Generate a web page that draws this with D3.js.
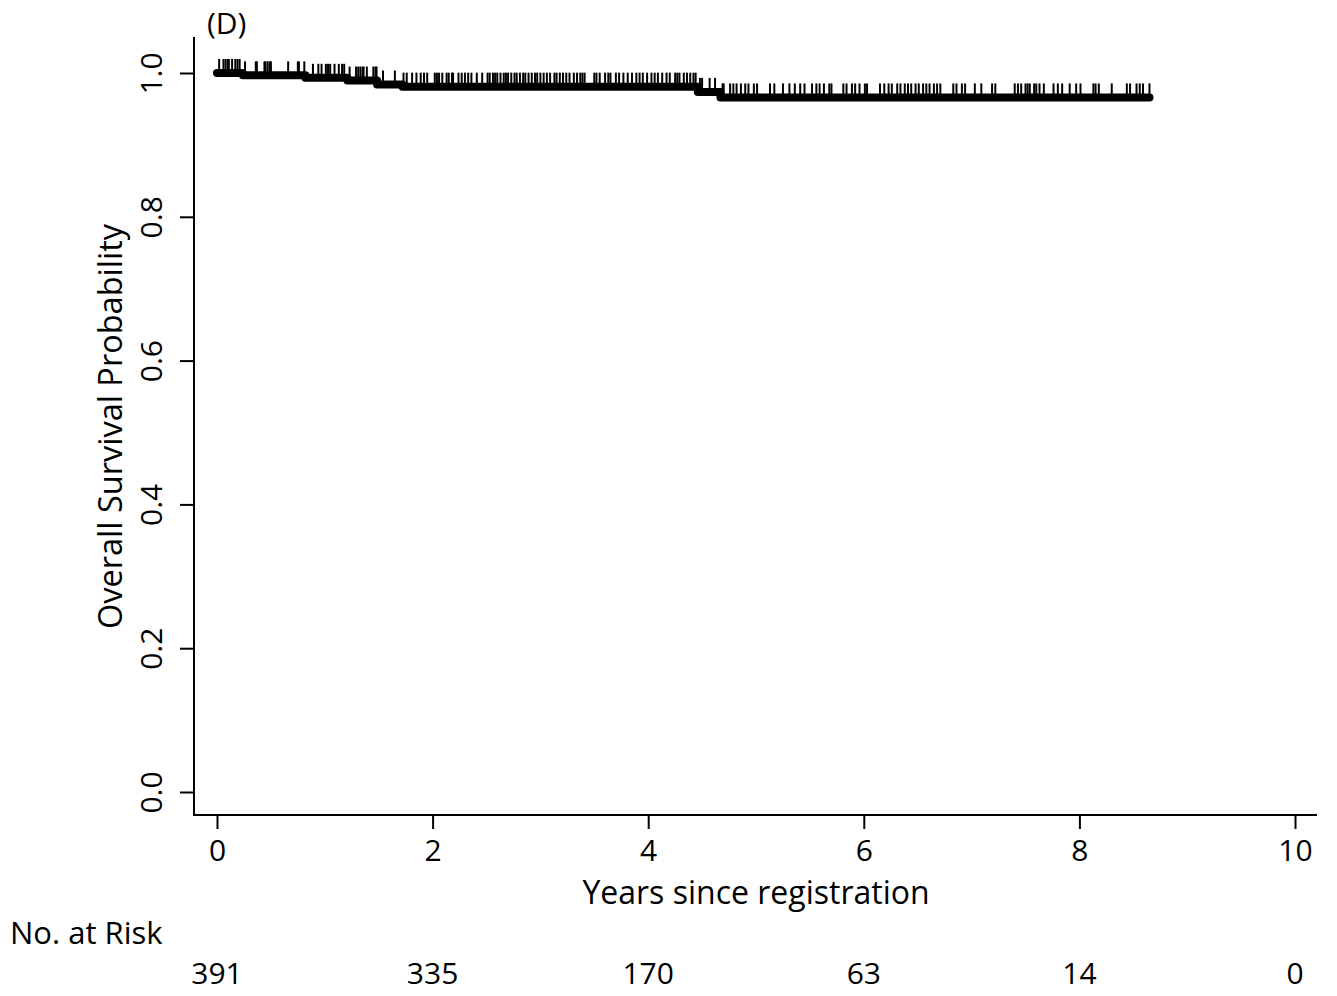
<!DOCTYPE html>
<html>
<head>
<meta charset="utf-8">
<script src="https://cdn.jsdelivr.net/npm/d3@7"></script>
<style>
  html, body { margin: 0; padding: 0; background: #fff; }
  svg { display: block; }
  text { font-family: "Open Sans", "Noto Sans", sans-serif; fill: #000; }
</style>
</head>
<body>
<svg id="chart" width="1337" height="996"></svg>
<script>
// ---- data ----
const panelLabel = "(D)";
const xLabel = "Years since registration";
const yLabel = "Overall Survival Probability";
const riskLabel = "No. at Risk";
const xTicks = [0, 2, 4, 6, 8, 10];
const yTicks = [0.0, 0.2, 0.4, 0.6, 0.8, 1.0];
const riskTimes = [0, 2, 4, 6, 8, 10];
const riskCounts = [391, 335, 170, 63, 14, 0];
// Kaplan-Meier step curve: event times and survival after each step
const stepTimes = [0, 0.24, 0.82, 1.21, 1.485, 1.72, 4.46, 4.67];
const stepSurv  = [1.0, 0.9967, 0.9933, 0.9895, 0.9840, 0.9810, 0.9737, 0.9660];
const lastTime = 8.65;
// censoring times (years)
const censorTimes = [
  0.02, 0.06, 0.08, 0.10, 0.11, 0.14, 0.17, 0.19, 0.21, 0.26, 0.36, 0.37, 0.44, 0.45, 0.47, 0.49, 0.50,
  0.66, 0.75, 0.76, 0.81, 0.89, 0.94, 0.97, 1.01, 1.03, 1.05, 1.09, 1.13, 1.16, 1.18, 1.23, 1.29, 1.31,
  1.33, 1.35, 1.36, 1.39, 1.45, 1.47, 1.48, 1.54, 1.65,
  1.73, 1.76, 1.81, 1.85, 1.89, 1.92, 1.95, 2.02, 2.04, 2.06, 2.09, 2.13, 2.15, 2.18, 2.19, 2.24, 2.27,
  2.30, 2.33, 2.36, 2.41, 2.46, 2.51, 2.53, 2.56, 2.58, 2.60, 2.63, 2.66, 2.68, 2.70, 2.73, 2.76, 2.78,
  2.81, 2.84, 2.86, 2.89, 2.92, 2.95, 2.97, 3.00, 3.03, 3.06, 3.09, 3.13, 3.15, 3.18, 3.21, 3.24, 3.27,
  3.31, 3.34, 3.37, 3.39, 3.41,
  3.50, 3.52, 3.55, 3.60, 3.63, 3.65, 3.70, 3.73, 3.77, 3.81, 3.85, 3.89, 3.92, 3.95, 3.99, 4.03, 4.06,
  4.09, 4.13, 4.17, 4.20, 4.25, 4.27, 4.29, 4.33, 4.36, 4.39, 4.42, 4.44, 4.48, 4.50, 4.57, 4.62, 4.69,
  4.70, 4.76, 4.79, 4.82, 4.86, 4.90, 4.93, 4.98, 5.01, 5.13, 5.17,
  5.25, 5.31, 5.36, 5.41, 5.45, 5.52, 5.56, 5.59, 5.63, 5.68, 5.70, 5.81, 5.84, 5.89, 5.92, 5.96, 6.01,
  6.03, 6.15, 6.19, 6.23, 6.26, 6.31, 6.34, 6.38, 6.41, 6.44, 6.48, 6.51, 6.55, 6.58, 6.61, 6.65, 6.68,
  6.71, 6.83, 6.86, 6.91, 6.94,
  7.03, 7.09, 7.19, 7.22, 7.40, 7.43, 7.46, 7.50, 7.52, 7.54, 7.58, 7.60, 7.63, 7.67, 7.76, 7.80, 7.84,
  7.91, 7.97, 8.01, 8.13, 8.15, 8.18, 8.30, 8.44, 8.47, 8.53, 8.56, 8.59, 8.65
];

// ---- layout ----
const svg = d3.select("#chart");
const x = d3.scaleLinear().domain([0, 10]).range([217, 1295]);
const y = d3.scaleLinear().domain([0, 1]).range([792, 73]);
const axisLeftX = 194, axisBottomY = 815, plotTop = 37, plotRight = 1317;
const fs = 30;

// axes lines (L-shaped frame)
svg.append("line").attr("x1", axisLeftX).attr("x2", axisLeftX)
  .attr("y1", plotTop).attr("y2", axisBottomY + 1)
  .attr("stroke", "#000").attr("stroke-width", 2);
svg.append("line").attr("x1", axisLeftX - 1).attr("x2", plotRight)
  .attr("y1", axisBottomY).attr("y2", axisBottomY)
  .attr("stroke", "#000").attr("stroke-width", 2);

// x axis
const gx = svg.append("g").attr("transform", `translate(0,${axisBottomY})`)
  .call(d3.axisBottom(x).tickValues(xTicks).tickSize(14).tickFormat(d3.format("d")));
gx.select(".domain").remove();
gx.selectAll(".tick line").attr("stroke", "#000").attr("stroke-width", 2);
gx.selectAll(".tick text").attr("y", 46).attr("dy", 0)
  .style("font-size", fs + "px").style("font-family", '"Open Sans", sans-serif').attr("fill", "#000");

// y axis
const gy = svg.append("g").attr("transform", `translate(${axisLeftX},0)`)
  .call(d3.axisLeft(y).tickValues(yTicks).tickSize(14).tickFormat(d3.format(".1f")));
gy.select(".domain").remove();
gy.selectAll(".tick line").attr("stroke", "#000").attr("stroke-width", 2);
gy.selectAll(".tick text").attr("x", 0).attr("dy", 0).attr("text-anchor", "middle")
  .attr("transform", "translate(-32,0) rotate(-90)")
  .style("font-size", fs + "px").style("font-family", '"Open Sans", sans-serif').attr("fill", "#000");

// axis titles
svg.append("text").attr("x", 756).attr("y", 904).attr("text-anchor", "middle")
  .style("font-size", "32px").text(xLabel);
svg.append("text").attr("transform", `translate(122,${(y(0) + y(1)) / 2 - 6}) rotate(-90)`)
  .attr("text-anchor", "middle").style("font-size", "32.5px").text(yLabel);
svg.append("text").attr("x", 207).attr("y", 34).style("font-size", "30px").text(panelLabel);

// risk table
svg.append("text").attr("x", 10).attr("y", 944).style("font-size", "31px").text(riskLabel);
svg.selectAll(".risk").data(riskTimes).enter().append("text")
  .attr("class", "risk")
  .attr("x", d => x(d)).attr("y", 984).attr("text-anchor", "middle")
  .style("font-size", fs + "px")
  .text((d, i) => riskCounts[i]);

// KM curve
const pts = stepTimes.map((t, i) => ({ t: t, s: stepSurv[i] }));
pts.push({ t: lastTime, s: stepSurv[stepSurv.length - 1] });
const line = d3.line().x(d => x(d.t)).y(d => y(d.s)).curve(d3.curveStepAfter);
svg.append("path").datum(pts).attr("d", line)
  .attr("fill", "none").attr("stroke", "#000").attr("stroke-width", 8)
  .attr("stroke-linecap", "round").attr("stroke-linejoin", "round");

// censor marks
const survAt = t => stepSurv[Math.max(0, d3.bisectRight(stepTimes, t) - 1)];
svg.selectAll(".cens").data(censorTimes).enter().append("line")
  .attr("class", "cens")
  .attr("x1", d => x(d)).attr("x2", d => x(d))
  .attr("y1", d => y(survAt(d))).attr("y2", d => y(survAt(d)) - 14)
  .attr("stroke", "#000").attr("stroke-width", 2);
</script>
</body>
</html>
